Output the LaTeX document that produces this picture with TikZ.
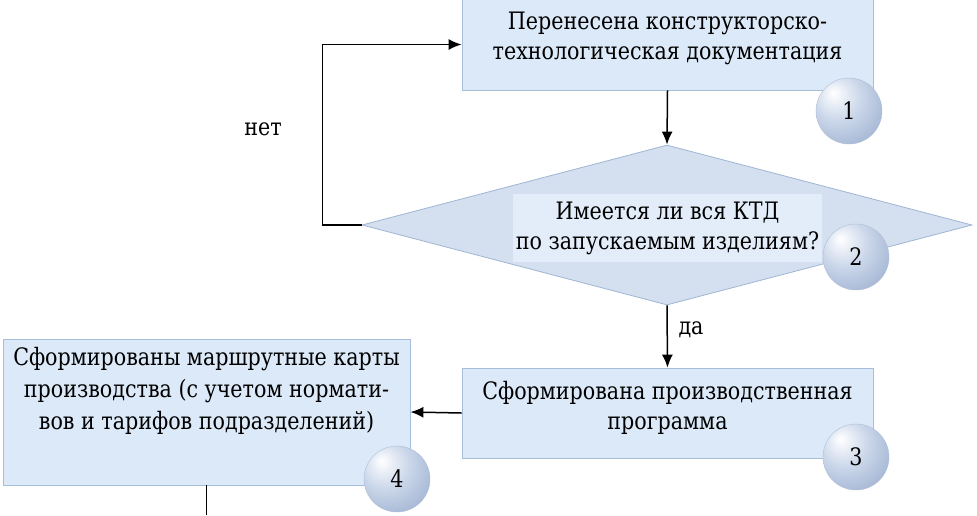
\documentclass[tikz,border=0pt]{standalone}
\usepackage{fontspec}
\setmainfont{DejaVu Serif}[FakeStretch=0.86]
\usetikzlibrary{calc,arrows.meta,shapes.geometric,positioning}
\definecolor{boxfill}{HTML}{DCE9F8}
\definecolor{boxline}{HTML}{A7BEDA}
\definecolor{rhombfill}{HTML}{D4DFEF}
\definecolor{rhombline}{HTML}{9FB5D4}
\definecolor{textfill}{HTML}{E3EDF9}
\definecolor{knobedge}{HTML}{8DA2C6}
\definecolor{knobmid}{HTML}{CBD7EA}
\pgfdeclareradialshading{knob}{\pgfpoint{-12bp}{14bp}}{color(0bp)=(white); color(18bp)=(knobmid); color(48bp)=(knobedge); color(75bp)=(knobedge)}

\begin{document}
\begin{tikzpicture}[x=1pt,y=-1pt,
    flow/.style={-{Latex[length=13pt,width=11pt]},line width=1.5pt},
    stepbox/.style={draw=boxline,fill=boxfill,line width=0.8pt,minimum width=411pt,inner sep=0pt},
    rhomb/.style={diamond,draw=rhombline,fill=rhombfill,line width=0.8pt,minimum width=610pt,minimum height=160pt,inner sep=0pt},
    boxtext/.style={align=center,inner sep=0pt,font=\fontsize{24}{30}\selectfont},
    knob/.style={circle,minimum size=66pt,inner sep=0pt,shading=knob,draw=knobedge!70!white,line width=0.4pt,font=\fontsize{24}{24}\selectfont}]
        \useasboundingbox (0,0) rectangle (977,515);

        % 1
        \node[stepbox,minimum height=91pt] (doc) at (667.5,44.5) {};
        \node[boxtext] (doctext) at (667.5,38) {Перенесена конструкторско-\\технологическая документация};
        \node[knob] (k1) at (849,111) {1};

        % 2
        \node[rhomb] (ktd) at (667,225) {};
        \node[boxtext,fill=textfill,minimum width=309pt,minimum height=68pt] (ktdtext) at (667.5,228) {Имеется ли вся КТД\\по запускаемым изделиям?};
        \node[knob] (k2) at (856,257) {2};

        % 3
        \node[stepbox,minimum height=90pt] (prog) at (667.5,413) {};
        \node[boxtext] (progtext) at (667.5,408) {Сформирована производственная\\программа};
        \node[knob] (k3) at (856,457) {3};

        % 4
        \node[stepbox,minimum width=407pt,minimum height=146pt] (maps) at (206.5,412) {};
        \node[boxtext,font=\fontsize{24}{32}\selectfont] (mapstext) at (206.5,391) {Сформированы маршрутные карты\\производства (с учетом нормати-\\вов и тарифов подразделений)};
        \node[knob] (k4) at (397,479) {4};

        \node[boxtext] (no) at (263,129) {нет};
        \node[boxtext] (yes) at (691,330) {да};
        \coordinate (down) at (206.5,515);

        \draw[flow] (doc.south) -- (ktd.north);
        \draw[flow] (ktd.west) -- ++(-39,0) |- (doc.west);
        \draw[flow] (ktd.south) -- (prog.north);
        \draw[flow] (prog.west) -- (maps.east);
        \draw[line width=1.5pt] (maps.south) -- (down);
      \end{tikzpicture}
\end{document}
